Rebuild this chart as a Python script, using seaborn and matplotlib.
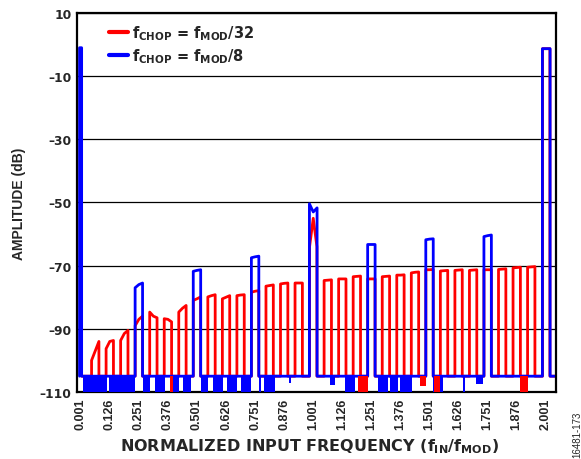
import pandas as pd
import matplotlib.pyplot as plt
import seaborn as sns

sns.set_theme(style="white")
plt.rcParams['font.family'] = ['DejaVu Sans']
plt.rcParams['font.weight'] = 'bold'
plt.rcParams['mathtext.fontset'] = 'custom'
plt.rcParams['mathtext.rm'] = 'DejaVu Sans:bold'
plt.rcParams['mathtext.it'] = 'DejaVu Sans:bold'
plt.rcParams['mathtext.bf'] = 'DejaVu Sans:bold'

# f_CHOP = f_MOD/32 : tone centres and plateau level (left / middle / right), dB
red_freq = [0.0635, 0.126, 0.1885, 0.251, 0.3135, 0.376, 0.4385, 0.501,
            0.5635, 0.626, 0.6885, 0.751, 0.8135, 0.876, 0.9385, 1.001,
            1.0635, 1.126, 1.1885, 1.251, 1.3135, 1.376, 1.4385, 1.501,
            1.5635, 1.626, 1.6885, 1.751, 1.8135, 1.876, 1.9385, 2.003]
red_left = [-100, -96.3, -93.7, -89, -84.7, -86.8, -84.7, -81,
            -79.9, -80.5, -79.5, -78.4, -76.5, -75.8, -75.5, -64,
            -74.7, -74.2, -73.5, -74.2, -73.5, -73, -72.3, -71.3,
            -71.7, -71.5, -71.5, -71.3, -71.2, -70.7, -70.5, -1.3]
red_mid = [-97, -94, -91.5, -87, -86, -87, -83.5, -80.5,
           -79.5, -80, -79.3, -78.1, -76.3, -75.6, -75.5, -55,
           -74.6, -74.2, -73.4, -74.2, -73.4, -73, -72.1, -71.3,
           -71.6, -71.4, -71.4, -71.3, -71.1, -70.6, -70.4, -1.3]
red_right = [-94, -93.7, -90.5, -86, -86.5, -87.8, -82.6, -79.9,
             -79.2, -79.5, -79.2, -77.9, -76.1, -75.5, -75.5, -64,
             -74.5, -74.2, -73.3, -74.2, -73.3, -72.9, -72, -71.2,
             -71.5, -71.3, -71.3, -71.3, -71, -70.5, -70.3, -1.3]
red_halfwidth = 0.0158

# f_CHOP = f_MOD/8
blue_freq = [0.0005, 0.251, 0.501, 0.751, 1.001, 1.251, 1.501, 1.751, 2.003]
blue_left = [-1, -77, -71.8, -67.5, -50.4, -63.3, -61.8, -60.8, -1.3]
blue_mid = [-1, -76, -71.5, -67.2, -53, -63.3, -61.6, -60.5, -1.3]
blue_right = [-1, -75.5, -71.3, -67, -51.7, -63.3, -61.5, -60.3, -1.3]
blue_halfwidth = [0.0045, 0.016, 0.016, 0.016, 0.0165, 0.016, 0.016, 0.016, 0.0165]

noise_floor = -105

# bands where the f_MOD/8 floor breaks down into dense noise
blue_noise_lo = [0.011, 0.122, 0.267, 0.32, 0.384, 0.441, 0.518, 0.57, 0.63, 0.692,
                 0.768, 0.79, 0.895, 1.072, 1.137, 1.28, 1.33, 1.373, 1.518, 1.645, 1.702]
blue_noise_hi = [0.116, 0.234, 0.297, 0.362, 0.424, 0.477, 0.549, 0.613, 0.673, 0.734,
                 0.778, 0.835, 0.905, 1.093, 1.18, 1.322, 1.365, 1.427, 1.559, 1.652, 1.731]
blue_noise_min = [-110, -110, -110, -110, -110, -110, -110, -110, -110, -110,
                  -110, -110, -107, -107.8, -110, -110, -110, -110, -110, -110, -107.4]

red_noise_lo = [0.385, 1.193, 1.459, 1.522, 1.889]
red_noise_hi = [0.398, 1.235, 1.484, 1.545, 1.925]
red_noise_min = [-110, -110, -108, -110, -110]

x_ticks = [0.001, 0.126, 0.251, 0.376, 0.501, 0.626, 0.751, 0.876, 1.001,
           1.126, 1.251, 1.376, 1.501, 1.626, 1.751, 1.876, 2.001]
y_ticks = [-110, -90, -70, -50, -30, -10, 10]

lbl_red = r'$f_{CHOP}$ = $f_{MOD}$/32'
lbl_blue = r'$f_{CHOP}$ = $f_{MOD}$/8'


def tone_trace(freq, left, mid, right, half, x_start, x_end):
    if not isinstance(half, list):
        half = [half] * len(freq)
    xs, ys = [], []
    if x_start is not None:
        xs.append(x_start)
        ys.append(noise_floor)
    for f, l, m, r, h in zip(freq, left, mid, right, half):
        xs += [f - h, f - h, f, f + h, f + h]
        ys += [noise_floor, l, m, r, noise_floor]
    xs.append(x_end)
    ys.append(noise_floor)
    return xs, ys


rx, ry = tone_trace(red_freq, red_left, red_mid, red_right, red_halfwidth, 0.005, 2.04)
bx, by = tone_trace(blue_freq, blue_left, blue_mid, blue_right, blue_halfwidth, None, 2.04)

df = pd.concat([
    pd.DataFrame({'freq': rx, 'db': ry, 'serie': lbl_red}),
    pd.DataFrame({'freq': bx, 'db': by, 'serie': lbl_blue}),
], ignore_index=True)

fig = plt.figure(figsize=(5.81, 4.6), dpi=100)
ax = fig.add_axes([0.1325, 0.1457, 0.8245, 0.8239])

sns.lineplot(data=df, x='freq', y='db', hue='serie', palette=['#ff0000', '#0000ff'],
             sort=False, estimator=None, linewidth=2.0, ax=ax)

for lo, hi, mn in zip(blue_noise_lo, blue_noise_hi, blue_noise_min):
    ax.fill_between([lo, hi], mn, noise_floor, color='#0000ff', lw=0, zorder=3)
for lo, hi, mn in zip(red_noise_lo, red_noise_hi, red_noise_min):
    ax.fill_between([lo, hi], mn, noise_floor, color='#ff0000', lw=0, zorder=4)

ax.set_xlim(-0.015, 2.045)
ax.set_ylim(-110, 10)
ax.set_xticks(x_ticks)
ax.set_xticklabels([f'{t:.3f}' for t in x_ticks], rotation=90, fontsize=9,
                   fontweight='bold', family=['Liberation Sans', 'DejaVu Sans'])
ax.set_yticks(y_ticks)
ax.set_yticklabels([('\u2013' + str(abs(t))) if t < 0 else str(t) for t in y_ticks],
                   fontsize=8.8, fontweight='bold')
ax.tick_params(length=0, pad=4)
ax.yaxis.grid(True, color='black', lw=0.9)
ax.xaxis.grid(False)
ax.set_axisbelow(True)
for s in ax.spines.values():
    s.set_color('black')
    s.set_linewidth(1.6)

ax.set_xlabel(r'NORMALIZED INPUT FREQUENCY ($f_{IN}$/$f_{MOD}$)', fontsize=11.5,
              fontweight='bold')
ax.xaxis.set_label_coords(0.485, -0.118)
ax.set_ylabel('AMPLITUDE (dB)', fontsize=10, fontweight='bold', labelpad=10,
              family=['Liberation Sans', 'DejaVu Sans'])

h, l = ax.get_legend_handles_labels()
leg = ax.legend(h, l, loc='upper left', bbox_to_anchor=(0.045, 1.0), frameon=False,
                fontsize=10.5, handlelength=1.3, handletextpad=0.3, labelspacing=0.32,
                borderaxespad=0.3)
for line in leg.get_lines():
    line.set_linewidth(3)

fig.text(0.993, 0.005, '16481-173', rotation=90, fontsize=7, fontweight='normal',
         family=['Liberation Sans', 'DejaVu Sans'], ha='center', va='bottom')

plt.savefig('out.png', dpi=100)
